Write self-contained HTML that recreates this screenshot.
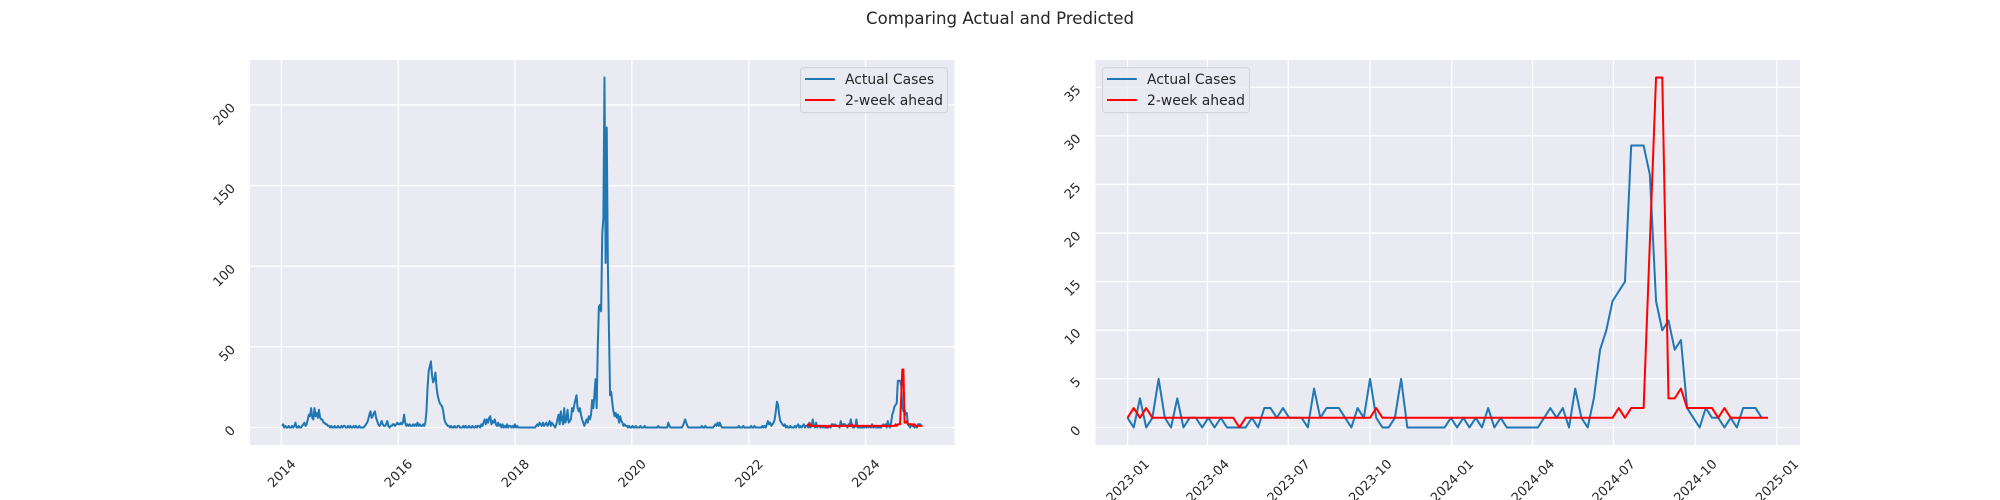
<!DOCTYPE html>
<html><head><meta charset="utf-8"><style>
html,body{margin:0;padding:0;background:#fff;}
svg{display:block;font-family:"DejaVu Sans","Liberation Sans",sans-serif;}
</style></head><body>
<svg id="fig" width="2000" height="500" viewBox="0 0 2000 500" xmlns="http://www.w3.org/2000/svg">
<rect width="2000" height="500" fill="#fff"/>
<text x="1000" y="24" text-anchor="middle" font-size="16.6" fill="#262626">Comparing Actual and Predicted</text>
<g id="left"></g>
<g id="right"></g>
</svg>
<script>
// Weekly actual cases 2014-01-05 .. 2022-12-25 (history before the forecast window)
const historyCases = [
1,2,0,1,0,0,1,0,0,1, 0,1,3,0,0,1,0,0,1,2, 3,1,2,5,8,7,12,6,5,12, 7,9,6,11,6,5,5,3,3,2,
2,1,1,0,1,0,0,1,0,0, 1,0,0,1,0,1,1,0,0,1, 0,1,0,0,1,0,1,0,0,1, 0,0,0,0,1,2,3,5,8,10,
6,7,9,10,6,4,2,1,2,4, 2,1,1,2,4,1,0,1,1,2, 2,1,2,3,2,2,3,2,3,8, 3,1,2,1,2,1,1,2,1,2,
1,3,1,2,1,1,2,1,3,10, 25,35,38,41,32,28,30,34,25,20, 17,15,14,13,10,5,3,2,1,1, 0,1,0,0,1,0,0,1,1,0,
0,0,1,0,1,0,0,1,0,0, 1,0,0,1,0,1,1,0,2,1, 3,5,2,5,3,6,7,2,4,3, 5,2,1,3,1,2,0,2,0,1,
0,2,0,1,1,0,1,0,2,0, 1,0,0,0,0,0,0,0,0,0, 0,0,0,0,0,0,0,1,2,1, 3,2,1,3,1,2,3,1,2,4,
1,3,2,1,0,2,5,8,2,10, 5,2,12,3,5,11,3,4,5,12, 10,14,17,20,12,10,12,8,5,3, 1,3,5,3,7,5,8,17,12,20,
30,12,50,75,76,72,120,130,217,102, 186,101,60,20,22,15,10,7,9,6, 8,3,7,4,3,1,2,1,1,0, 1,0,0,1,0,0,1,0,0,0,
1,0,0,0,1,0,0,0,0,0, 0,0,0,0,0,0,1,0,0,0, 0,0,0,0,0,3,1,0,0,0, 0,0,0,0,0,0,0,0,1,3,
5,3,1,0,0,0,0,0,0,0, 0,0,0,0,0,1,0,0,1,0, 0,0,0,0,0,0,1,2,1,3, 1,3,1,0,0,0,0,0,0,0,
0,0,0,0,0,0,0,0,1,0, 0,0,1,0,0,0,0,0,0,1, 0,0,1,0,0,0,0,0,0,1, 0,1,0,2,4,2,3,1,2,3,
5,10,16,14,8,4,3,2,1,2, 0,1,0,0,1,0,0,0,1,0, 1,2,0,1,0,1,2,0,1
];
// Weekly actual cases 2023-01-01 .. 2024-12-15
const recentCases = [
1,0,3,0,1,5,1,0,3,0, 1,1,0,1,0,1,0,0,0,0, 1,0,2,2,1,2,1,1,1,0, 4,1,2,2,2,1,0,2,1,5,
1,0,0,1,5,0,0,0,0,0, 0,0,1,0,1,0,1,0,2,0, 1,0,0,0,0,0,0,1,2,1, 2,0,4,1,0,3,8,10,13,14,
15,29,29,29,26,13,10,11,8,9, 2,1,0,2,1,1,0,1,0,2, 2,2,1
];
// 2-week ahead predictions 2023-01-01 .. 2024-12-22
const predicted = [
1,2,1,2,1,1,1,1,1,1, 1,1,1,1,1,1,1,1,0,1, 1,1,1,1,1,1,1,1,1,1, 1,1,1,1,1,1,1,1,1,1,
2,1,1,1,1,1,1,1,1,1, 1,1,1,1,1,1,1,1,1,1, 1,1,1,1,1,1,1,1,1,1, 1,1,1,1,1,1,1,1,1,2,
1,2,2,2,19,36,36,3,3,4, 2,2,2,2,2,1,2,1,1,1, 1,1,1,1
];
const historyStart = "2014-01-05";
const recentStart = "2023-01-01";
const leftXTicks = ["2014","2016","2018","2020","2022","2024"];
const leftYTicks = [0,50,100,150,200];
const rightXTicks = ["2023-01","2023-04","2023-07","2023-10","2024-01","2024-04","2024-07","2024-10","2025-01"];
const rightYTicks = [0,5,10,15,20,25,30,35];

const NS="http://www.w3.org/2000/svg";
const DAY=86400000;
function dateOf(s){const p=s.split("-").map(Number);return Date.UTC(p[0],(p[1]||1)-1,p[2]||1);}
function mk(tag,attrs,parent){const e=document.createElementNS(NS,tag);for(const k in attrs)e.setAttribute(k,attrs[k]);parent.appendChild(e);return e;}

function drawChart(g, ax, actualSeries, predSeries, xTicks, yTicks, legendLoc, prefix){
  const [L,T,W,H]=ax;
  const allT=actualSeries.map(p=>p.t).concat(predSeries.map(p=>p.t));
  const allV=actualSeries.map(p=>p.v).concat(predSeries.map(p=>p.v));
  const t0=Math.min(...allT),t1=Math.max(...allT),R=t1-t0;
  const xmin=t0-0.05*R,xmax=t1+0.05*R;
  const v0=Math.min(...allV),v1=Math.max(...allV),VR=v1-v0;
  const ymin=v0-0.05*VR,ymax=v1+0.05*VR;
  const X=t=>L+(t-xmin)/(xmax-xmin)*W;
  const Y=v=>T+H-(v-ymin)/(ymax-ymin)*H;
  const bg=mk("rect",{x:L,y:T,width:W,height:H,fill:"#EAEAF2"},g);
  
  
  const grid=mk("g",{},g);
  
  
  const fs=13;
  yTicks.forEach(v=>{
    const y=Y(v);
    mk("line",{x1:L,x2:L+W,y1:y,y2:y,stroke:"#fff","stroke-width":1.3},grid);
    const tx=mk("text",{x:L-14,y:y+3.6,"text-anchor":"end","font-size":fs,fill:"#262626",transform:`rotate(-45 ${L-14} ${y+3.6})`},g);
    tx.textContent=String(v);
    
    
  });
  xTicks.forEach(s=>{
    const x=X(dateOf(s));
    mk("line",{x1:x,x2:x,y1:T,y2:T+H,stroke:"#fff","stroke-width":1.3},grid);
    const tx=mk("text",{"text-anchor":"end","font-size":fs,fill:"#262626"},g);
    tx.textContent=s;
    
    
    const Lw=tx.getComputedTextLength();
    const cap=0.73*fs;
    const Wd=0.707*(Lw+cap);
    const px=x+Wd/2, py=458+0.707*cap;
    tx.setAttribute("x",px);tx.setAttribute("y",py);
    tx.setAttribute("transform",`rotate(-45 ${px} ${py})`);
  });
  const clipId=prefix+"-clip";
  const cp=mk("clipPath",{id:clipId},g);
  mk("rect",{x:L,y:T,width:W,height:H},cp);
  const a=mk("polyline",{points:actualSeries.map(p=>X(p.t).toFixed(2)+","+Y(p.v).toFixed(2)).join(" "),fill:"none",stroke:"#1f77b4","stroke-width":2,"stroke-linejoin":"round","clip-path":`url(#${clipId})`},g);
  
  
  const pr=mk("polyline",{points:predSeries.map(p=>X(p.t).toFixed(2)+","+Y(p.v).toFixed(2)).join(" "),fill:"none",stroke:"#ff0000","stroke-width":2,"stroke-linejoin":"round","clip-path":`url(#${clipId})`},g);
  
  
  // legend
  const lw=147,lh=45;
  const lx= legendLoc==="right" ? L+W-7-lw : L+7;
  const ly=T+7.7;
  const lg=mk("g",{},g);
  
  
  mk("rect",{x:lx,y:ly,width:lw,height:lh,rx:3,fill:"#EAEAF2","fill-opacity":0.8,stroke:"#d0d0d8","stroke-width":1},lg);
  [["Actual Cases","#1f77b4",11.3],["2-week ahead","#ff0000",32.3]].forEach(([lab,col,dy],i)=>{
    const hl=mk("line",{x1:lx+4.5,x2:lx+34.3,y1:ly+dy,y2:ly+dy,stroke:col,"stroke-width":2},lg);
    
    
    const t=mk("text",{x:lx+44.5,y:ly+dy+5,"font-size":13.9,fill:"#262626"},lg);
    t.textContent=lab;
    
    
  });
}

const hs=dateOf(historyStart), rs=dateOf(recentStart);
const histSeries=historyCases.map((v,i)=>({t:hs+i*7*DAY,v}));
const recentSeries=recentCases.map((v,i)=>({t:rs+i*7*DAY,v}));
const predSeries=predicted.map((v,i)=>({t:rs+i*7*DAY,v}));

drawChart(document.getElementById("left"),[250,60,704.5,385],histSeries.concat(recentSeries),predSeries,leftXTicks,leftYTicks,"right","left");
drawChart(document.getElementById("right"),[1095.5,60,704.5,385],recentSeries,predSeries,rightXTicks,rightYTicks,"left","right");
</script>
</body></html>
